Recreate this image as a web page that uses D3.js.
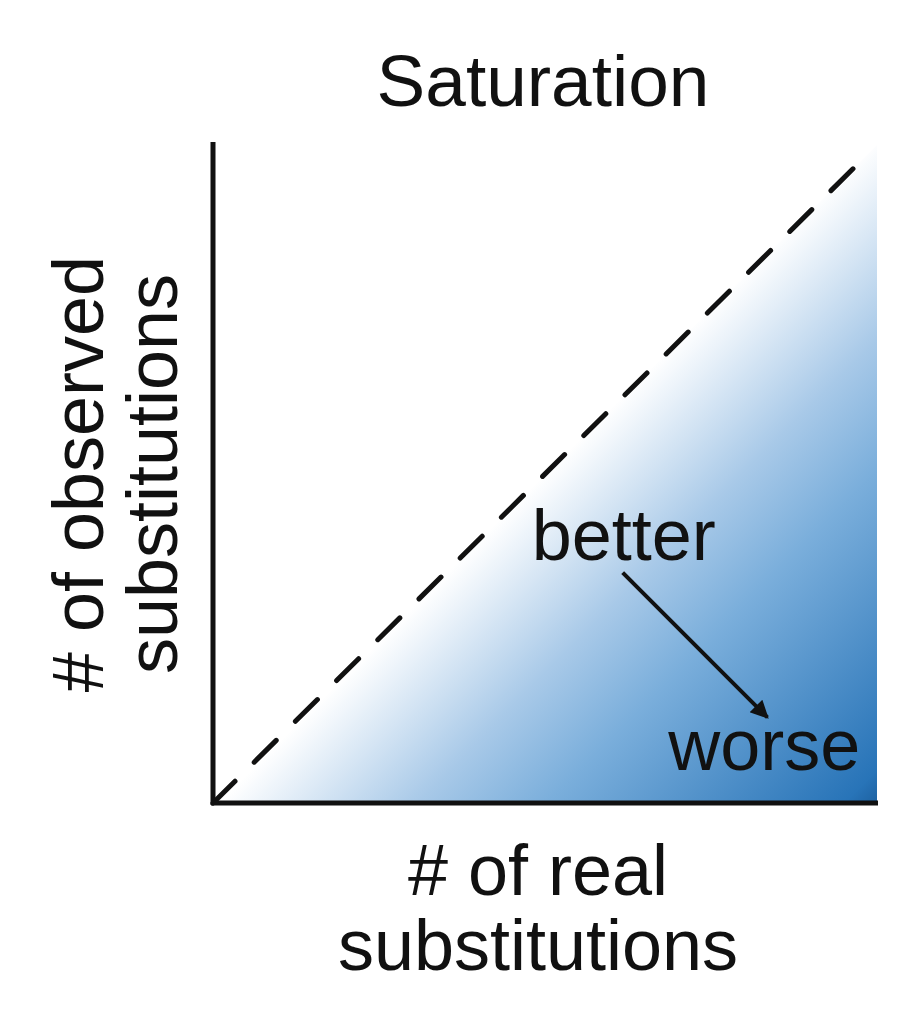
<!DOCTYPE html>
<html>
<head>
  <meta charset="utf-8">
  <script src="https://d3js.org/d3.v7.min.js"></script>
  <style>
    body { margin: 0; background: #fff; }
    text { font-family: "Liberation Sans", Arial, sans-serif; fill: #111; }
  </style>
</head>
<body>
<div id="chart"></div>
<script>
// Chart content
var title = "Saturation";
var xLabel = ["# of real", "substitutions"];
var yLabel = ["# of observed", "substitutions"];

// Region where real > observed (the saturated area), in data units 0..1
var satArea = [[0, 0], [1, 0], [1, 1]];
// The 1:1 dashed line
var diagonal = [[0, 0], [0.97, 0.97]];
// Annotation positions (data units)
var annot = [
  {label: "better", x: 0.48, y: 0.37},
  {label: "worse", x: 0.975, y: 0.05}
];
var arrow = [[0.617, 0.35], [0.835, 0.13]];

// Gradient stops: white at the diagonal -> blue at bottom right
var gradStops = [
  {offset: 0, color: "#ffffff"},
  {offset: 0.3, color: "#a8c9e8"},
  {offset: 0.5, color: "#7aaedb"},
  {offset: 0.95, color: "#2874b8"},
  {offset: 1, color: "#1d62a2"}
];

var width = 923, height = 1028;
var x0 = 213, x1 = 877, y0 = 803, y1 = 145;

var svg = d3.select("#chart").append("svg")
  .attr("width", width)
  .attr("height", height);

var x = d3.scaleLinear().domain([0, 1]).range([x0, x1]);
var y = d3.scaleLinear().domain([0, 1]).range([y0, y1]);

// gradient runs perpendicular to the diagonal
var defs = svg.append("defs");
var grad = defs.append("linearGradient")
  .attr("id", "satGrad")
  .attr("gradientUnits", "userSpaceOnUse")
  .attr("x1", x(0.5)).attr("y1", y(0.5))
  .attr("x2", x(1)).attr("y2", y(0));
grad.selectAll("stop").data(gradStops).enter().append("stop")
  .attr("offset", function(d) { return d.offset; })
  .attr("stop-color", function(d) { return d.color; });

defs.append("marker")
  .attr("id", "head")
  .attr("viewBox", "0 0 10 10")
  .attr("refX", 9).attr("refY", 5)
  .attr("markerWidth", 6).attr("markerHeight", 4.5)
  .attr("markerUnits", "strokeWidth")
  .attr("orient", "auto")
  .append("path")
  .attr("d", "M0,0 L10,5 L0,10 Z")
  .attr("fill", "#111");

var line = d3.line().x(function(d) { return x(d[0]); }).y(function(d) { return y(d[1]); });

// filled triangle
svg.append("path")
  .attr("d", line(satArea) + "Z")
  .attr("fill", "url(#satGrad)");

// dashed 1:1 line
svg.append("path")
  .attr("d", line(diagonal))
  .attr("fill", "none")
  .attr("stroke", "#111")
  .attr("stroke-width", 5)
  .attr("stroke-linecap", "round")
  .attr("stroke-dasharray", "31,27");

// axes (plain lines, no ticks)
svg.append("line")
  .attr("x1", x(0)).attr("y1", y(0) + 2)
  .attr("x2", x(0)).attr("y2", y(1) - 3)
  .attr("stroke", "#111").attr("stroke-width", 5);
svg.append("line")
  .attr("x1", x(0) - 2).attr("y1", y(0))
  .attr("x2", x(1) + 1).attr("y2", y(0))
  .attr("stroke", "#111").attr("stroke-width", 5);

// arrow better -> worse
svg.append("path")
  .attr("d", line(arrow))
  .attr("stroke", "#111")
  .attr("stroke-width", 4)
  .attr("marker-end", "url(#head)");

// annotation text
svg.selectAll("text.annot").data(annot).enter().append("text")
  .attr("class", "annot")
  .attr("x", function(d) { return x(d.x); })
  .attr("y", function(d) { return y(d.y); })
  .attr("text-anchor", function(d, i) { return i === 0 ? "start" : "end"; })
  .attr("font-size", 72)
  .text(function(d) { return d.label; });

// title
svg.append("text")
  .attr("x", 543).attr("y", 106)
  .attr("text-anchor", "middle")
  .attr("font-size", 73)
  .text(title);

// x label
svg.selectAll("text.xl").data(xLabel).enter().append("text")
  .attr("class", "xl")
  .attr("x", 538)
  .attr("y", function(d, i) { return 895 + i * 75; })
  .attr("text-anchor", "middle")
  .attr("font-size", 72)
  .text(function(d) { return d; });

// y label (rotated)
svg.selectAll("text.yl").data(yLabel).enter().append("text")
  .attr("class", "yl")
  .attr("transform", function(d, i) { return "translate(" + (103 + i * 74) + ",474) rotate(-90)"; })
  .attr("text-anchor", "middle")
  .attr("font-size", 72)
  .text(function(d) { return d; });
</script>
</body>
</html>
